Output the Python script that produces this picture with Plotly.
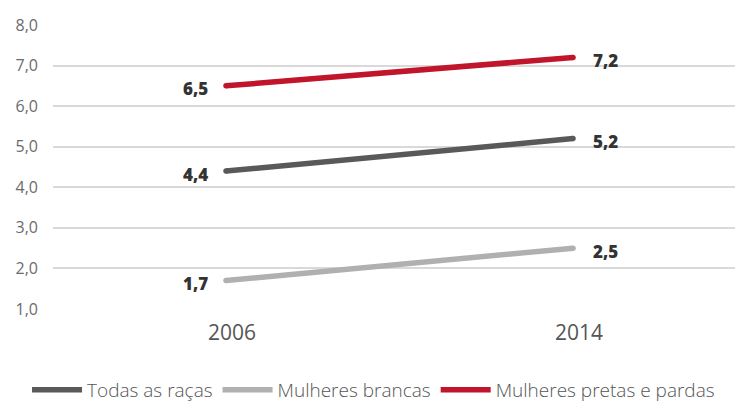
import plotly.graph_objects as go

years = ["2006", "2014"]
series_names = ["Todas as raças", "Mulheres brancas", "Mulheres pretas e pardas"]
todas = [4.4, 5.2]
brancas = [1.7, 2.5]
pretas = [6.5, 7.2]
y_ticks = [1, 2, 3, 4, 5, 6, 7, 8]

colors = ["#595959", "#b0b0b0", "#c0152a"]
values = [todas, brancas, pretas]

fig = go.Figure()
for name, vals, col in zip(series_names, values, colors):
    fig.add_trace(go.Scatter(
        x=[0, 1], y=vals, name=name, mode="lines",
        line=dict(color=col, width=5.5),
        cliponaxis=False,
    ))
    # rounded line caps
    fig.add_trace(go.Scatter(
        x=[0, 1], y=vals, mode="markers", showlegend=False, hoverinfo="skip",
        marker=dict(color=col, size=5.5, line=dict(width=0)),
        cliponaxis=False,
    ))
    for i, v in enumerate(vals):
        fig.add_annotation(
            x=i, y=v, text=f"{v:.1f}".replace(".", ","), showarrow=False,
            xanchor="right" if i == 0 else "left",
            xshift=-16 if i == 0 else 18, yshift=-3,
            font=dict(family="Open Sans", size=17, color="#333333", weight=800),
        )

fig.update_layout(
    width=743, height=410,
    margin=dict(l=45, r=0, t=17, b=109, autoexpand=False),
    plot_bgcolor="white", paper_bgcolor="white",
    separators=",.",
    showlegend=True,
    legend=dict(
        orientation="h", xref="container", yref="container",
        x=0.0256, y=0.022, xanchor="left", yanchor="bottom",
        font=dict(family="Open Sans", size=19, color="#555555", weight=300),
        itemwidth=50, tracegroupgap=0, traceorder="normal",
    ),
    xaxis=dict(
        range=[-0.4986, 1.513], tickvals=[0, 1], ticktext=years,
        showgrid=False, zeroline=False, showline=False,
        tickfont=dict(family="Open Sans", size=21, color="#555555", weight=400),
        ticks="", ticklabelstandoff=9, ticklabelshift=6,
    ),
    yaxis=dict(
        range=[1, 8], tickvals=y_ticks, tickformat=".1f",
        showgrid=True, gridcolor="#d9d9d9", gridwidth=1.5,
        zeroline=False, showline=False,
        tickfont=dict(family="Open Sans", size=16, color="#6b6b6b", weight=400),
        ticks="", ticklabelstandoff=14,
    ),
)

fig.write_html("out.html")
